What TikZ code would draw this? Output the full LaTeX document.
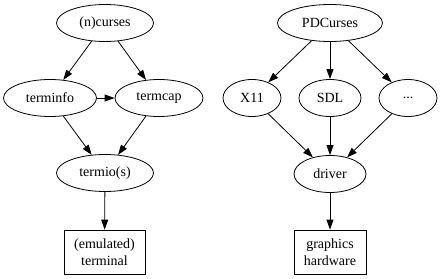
\documentclass[tikz,border=0pt]{standalone}
\usepackage{fontspec}
\setmainfont{Liberation Serif}
\usetikzlibrary{arrows.meta,shapes.geometric}

\begin{document}
\begin{tikzpicture}[x=1pt,y=-1pt,
  lib/.style={ellipse,draw,line width=0.8pt,inner sep=0pt,minimum height=37pt,
    font=\fontsize{14}{16}\selectfont},
  dev/.style={rectangle,draw,line width=0.8pt,inner sep=0pt,minimum height=44pt,
    align=center,font=\fontsize{14}{17}\selectfont},
  dep/.style={-{Triangle[length=10pt,width=7pt]},line width=0.8pt}]
\useasboundingbox (0,0) rectangle (440,279);
% curses side
\node[lib,minimum width=97pt] (ncurses) at (105,23) {(n)curses};
\node[lib,minimum width=93pt] (terminfo) at (50,98) {terminfo};
\node[lib,minimum width=88pt] (termcap) at (159,98) {termcap};
\node[lib,minimum width=97pt] (termios) at (105,173) {termio(s)};
\node[dev,minimum width=81pt] (terminal) at (104.5,252) {(emulated)\\terminal};
% pdcurses side
\node[lib,minimum width=105pt] (pdcurses) at (330,23) {PDCurses};
\node[lib,minimum width=58pt] (x11) at (252,98) {X11};
\node[lib,minimum width=62pt] (sdl) at (330,98) {SDL};
\node[lib,minimum width=58pt] (other) at (408,98) {...};
\node[lib,minimum width=72pt] (driver) at (330,174) {driver};
\node[dev,minimum width=72pt] (hardware) at (330,252) {graphics\\hardware};
\foreach \a/\b in {ncurses/terminfo,ncurses/termcap,terminfo/termcap,
  terminfo/termios,termcap/termios,termios/terminal}{\draw[dep] (\a) -- (\b);}
\foreach \a/\b in {pdcurses/x11,pdcurses/sdl,pdcurses/other,
  x11/driver,sdl/driver,other/driver,driver/hardware}{\draw[dep] (\a) -- (\b);}
\end{tikzpicture}
\end{document}
